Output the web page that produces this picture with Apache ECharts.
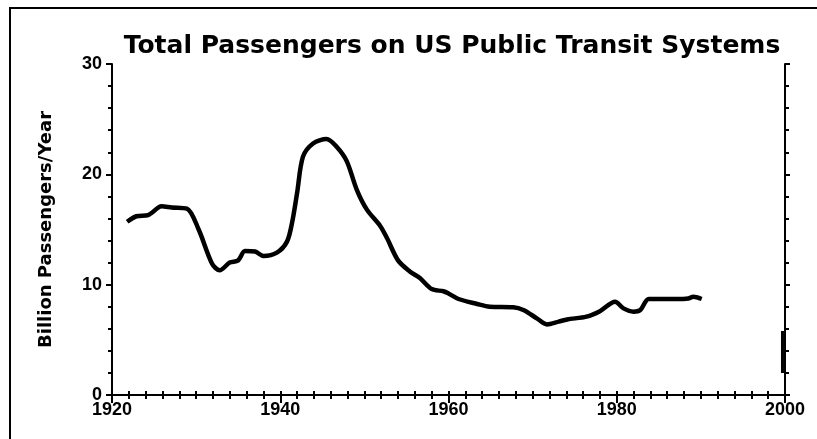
<!DOCTYPE html>
<html>
<head>
<meta charset="utf-8">
<script src="https://cdn.jsdelivr.net/npm/echarts@6/dist/echarts.min.js"></script>
<style>html,body{margin:0;padding:0;background:#fff;}#c{width:817px;height:439px;}</style>
</head>
<body>
<div id="c"></div>
<script>
var years = [1921.8,1922.9,1924.3,1925.9,1927.1,1928.9,1930.3,1931.9,1932.8,1934.0,1935.0,1935.8,1937.0,1938.0,1939.6,1940.8,1941.4,1942.0,1942.7,1943.9,1945.5,1946.7,1947.9,1949.1,1950.3,1951.9,1952.7,1954.0,1955.4,1956.6,1958.0,1959.4,1960.0,1961.2,1963.4,1964.9,1967.7,1968.9,1970.5,1971.7,1973.1,1974.1,1976.4,1978.0,1979.8,1980.8,1982.0,1982.8,1983.8,1985.5,1987.1,1988.5,1989.1,1990.1];
var passengers = [15.7,16.2,16.3,17.1,17.0,16.9,15.0,11.9,11.3,12.0,12.2,13.05,13.0,12.6,12.9,13.9,15.6,18.3,21.6,22.8,23.2,22.5,21.2,18.6,16.8,15.3,14.2,12.2,11.2,10.6,9.6,9.4,9.2,8.7,8.25,8.0,7.95,7.7,6.95,6.4,6.65,6.85,7.1,7.6,8.45,7.85,7.55,7.7,8.7,8.7,8.7,8.75,8.9,8.7];
var artifactYears = [1999.7, 1999.7];
var artifactValues = [5.8, 2.0];
var xTicks = [1920, 1940, 1960, 1980, 2000];
var yTicks = [0, 10, 20, 30];
var titleText = 'Total Passengers on US Public Transit Systems';
var yName = 'Billion Passengers/Year';

var mainData = years.map(function(y, i){ return [y, passengers[i]]; });
var artData = artifactYears.map(function(y, i){ return [y, artifactValues[i]]; });

var chart = echarts.init(document.getElementById('c'), null, {renderer:'canvas'});
var axisLine = {show:true, lineStyle:{color:'#000', width:2}};
var labelStyle = {color:'#000', fontFamily:'"Liberation Sans Narrow", "Liberation Sans"', fontWeight:'bold', fontSize:18};
chart.setOption({
  animation:false,
  backgroundColor:'#fff',
  title:{text:titleText, left:447, textAlign:'center', top:29,
    textStyle:{fontFamily:'"DejaVu Sans"', fontWeight:'bold', fontSize:25, color:'#000'}},
  grid:{left:112, right:32, top:64, bottom:44},
  graphic:[{type:'rect', shape:{x:10, y:8, width:830, height:450}, style:{fill:null, stroke:'#000', lineWidth:2}, silent:true, z:-1}],
  xAxis:[{type:'value', position:'bottom', min:1920, max:2000, interval:20,
      axisLine:axisLine, axisTick:{show:true, length:8, inside:false, lineStyle:{color:'#000', width:2}},
      minorTick:{show:true, splitNumber:10, length:4, lineStyle:{color:'#000', width:2}},
      splitLine:{show:false},
      axisLabel:Object.assign({margin:6, formatter:function(v){return xTicks.indexOf(v)>=0?String(v):'';}}, labelStyle)},
    {type:'value', position:'top', min:1920, max:2000, interval:20,
      axisLine:axisLine, axisTick:{show:true, length:4, lineStyle:{color:'#000', width:2}},
      minorTick:{show:true, splitNumber:10, length:4, lineStyle:{color:'#000', width:2}},
      splitLine:{show:false}, axisLabel:{show:false}}],
  yAxis:[{type:'value', position:'left', min:0, max:30, interval:10,
      name:yName, nameLocation:'middle', nameGap:57, nameRotate:90,
      nameTextStyle:{fontFamily:'"DejaVu Sans"', fontWeight:'bold', fontSize:18, color:'#000'},
      axisLine:axisLine, axisTick:{show:true, length:6, lineStyle:{color:'#000', width:2}},
      minorTick:{show:true, splitNumber:5, length:4, lineStyle:{color:'#000', width:2}},
      splitLine:{show:false},
      axisLabel:Object.assign({margin:10, formatter:function(v){return yTicks.indexOf(v)>=0?String(v):'';}}, labelStyle)},
    {type:'value', position:'right', min:0, max:30, interval:10,
      axisLine:axisLine, axisTick:{show:true, length:5, lineStyle:{color:'#000', width:2}},
      minorTick:{show:true, splitNumber:5, length:4, lineStyle:{color:'#000', width:2}},
      splitLine:{show:false}, axisLabel:{show:false}}],
  series:[
    {type:'line', xAxisIndex:0, yAxisIndex:0, data:mainData, showSymbol:false, smooth:0.3,
     lineStyle:{color:'#000', width:4.5}},
    {type:'line', xAxisIndex:0, yAxisIndex:0, data:artData, showSymbol:false,
     lineStyle:{color:'#000', width:3}}
  ]
});
</script>
</body>
</html>
